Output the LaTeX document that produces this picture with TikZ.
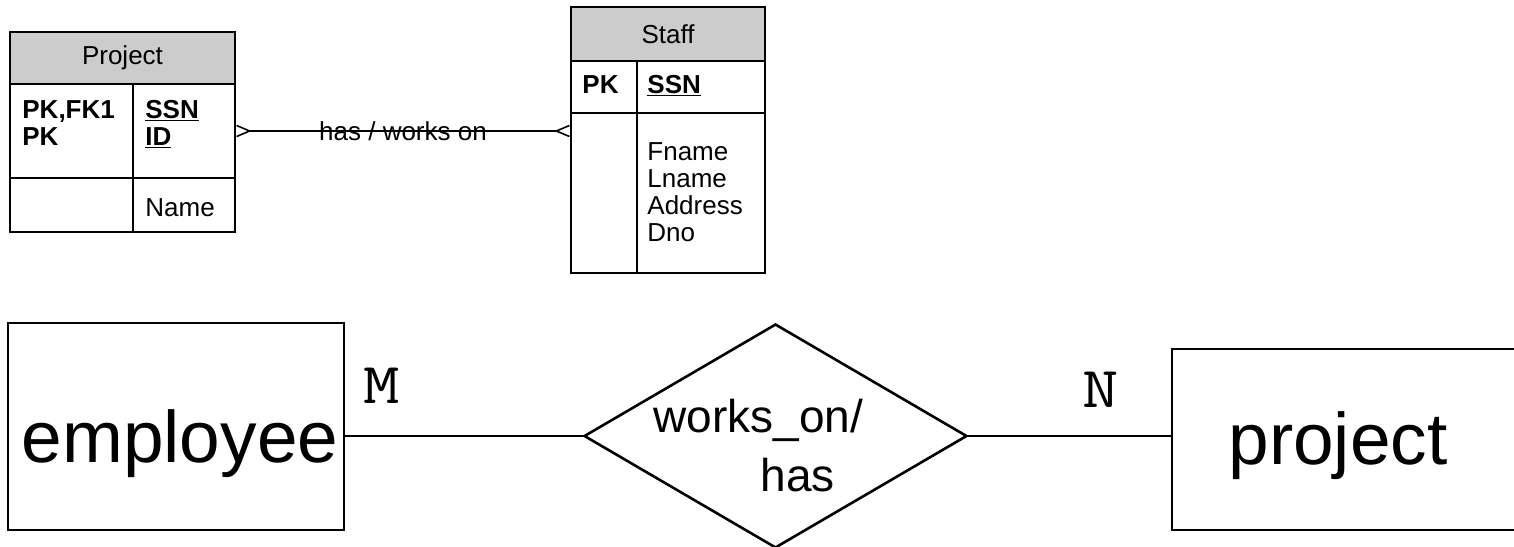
\documentclass[tikz,border=0pt]{standalone}
\usepackage{fontspec}
\setmainfont{Liberation Sans}
\newfontfamily\cardfont[FakeStretch=1.22]{Latin Modern Mono}
\usetikzlibrary{positioning,shapes.geometric,arrows.meta}
\definecolor{headgray}{RGB}{204,204,204}
\tikzset{
    cell/.style ={
        shape=rectangle,
        draw=black,
        line width=1.6pt,
        inner sep=0pt
    },
    tabhead/.style ={
        cell,
        fill=headgray,
        font=\fontsize{26}{27}\selectfont
    },
    field/.style ={
        inner sep=0pt,
        align=left,
        font=\fontsize{26}{27}\selectfont
    },
    keyfield/.style ={
        field,
        font=\fontsize{26}{27}\selectfont\bfseries
    },
    entity/.style ={
        shape=rectangle,
        draw=black,
        line width=2.6pt,
        inner sep=0pt
    },
    relation/.style ={
        shape=diamond,
        draw=black,
        line width=2.6pt,
        inner sep=0pt
    },
    bigword/.style ={
        inner sep=0pt,
        font=\fontsize{73}{80}\selectfont
    },
    reltext/.style ={
        inner sep=0pt,
        align=left,
        font=\fontsize{46}{59}\selectfont
    },
    card/.style ={
        inner sep=0pt,
        font=\cardfont\fontsize{58}{60}\selectfont
    },
    crowsfoot/.style ={
        line width=1.6pt,
        >={Straight Barb[reversed,length=13pt,width=11pt]},
        <->
    },
    link/.style ={
        line width=2.6pt
    }
}

\begin{document}
\begin{tikzpicture}[x=1pt,y=-1pt]
    \useasboundingbox (0,0) rectangle (1514,546);
    % Project table
    \node[tabhead, minimum width=225pt, minimum height=52pt] (pjhead) at (122.5,58) {Project};
    \node[cell, minimum width=123pt, minimum height=94pt] (pjkey) at (71.5,131) {};
    \node[cell, minimum width=102pt, minimum height=94pt] (pjid) at (184,131) {};
    \node[cell, minimum width=123pt, minimum height=54pt] (pjnote) at (71.5,205) {};
    \node[cell, minimum width=102pt, minimum height=54pt] (pjattr) at (184,205) {};
    \node[keyfield, below right=17pt and 13pt of pjkey.north west] (pjkeys) {PK,FK1\\PK};
    \node[keyfield, below right=17pt and 13pt of pjid.north west] (pjids) {\underline{SSN}\\\underline{ID}};
    \node[field, below right=21pt and 13pt of pjattr.north west] (pjname) {Name};
    % Staff table
    \node[tabhead, minimum width=194pt, minimum height=54pt] (sthead) at (668,34) {Staff};
    \node[cell, minimum width=66pt, minimum height=52pt] (stkey) at (604,87) {};
    \node[cell, minimum width=128pt, minimum height=52pt] (stssn) at (701,87) {};
    \node[cell, minimum width=66pt, minimum height=160pt] (stnote) at (604,193) {};
    \node[cell, minimum width=128pt, minimum height=160pt] (stattr) at (701,193) {};
    \node[keyfield, below right=15pt and 12pt of stkey.north west] (stkeys) {PK};
    \node[keyfield, below right=15pt and 11pt of stssn.north west] (stssns) {\underline{SSN}};
    \node[field, below right=30pt and 11pt of stattr.north west] (stfields) {Fname\\Lname\\Address\\Dno};
    \draw[crowsfoot] (pjid.east) -- (pjid.east -| stnote.west)
        node[midway, field] (rolename) {has / works on};
    % ER diagram
    \node[entity, minimum width=336pt, minimum height=207pt,
        label={[bigword, xshift=4pt, yshift=-17pt]center:employee}] (emp) at (176,426.5) {};
    \node[relation, minimum width=383pt, minimum height=224pt,
        label={[reltext, xshift=-17pt, yshift=-10pt]center:{works\_on/\\\hspace*{107pt}has}}] (rel) at (775.5,436) {};
    \node[entity, minimum width=400pt, minimum height=181pt,
        label={[bigword, xshift=-34pt, yshift=-6.5pt]center:project}] (proj) at (1372,439.5) {};
    \draw[link] (rel.west) -- (rel.west -| emp.east);
    \draw[link] (rel.east) -- (rel.east -| proj.west);
    \node[card, above right=23pt and 18pt of emp.east] (mcard) {M};
    \node[card, above left=32pt and 52pt of proj.west] (ncard) {N};
\end{tikzpicture}
\end{document}
